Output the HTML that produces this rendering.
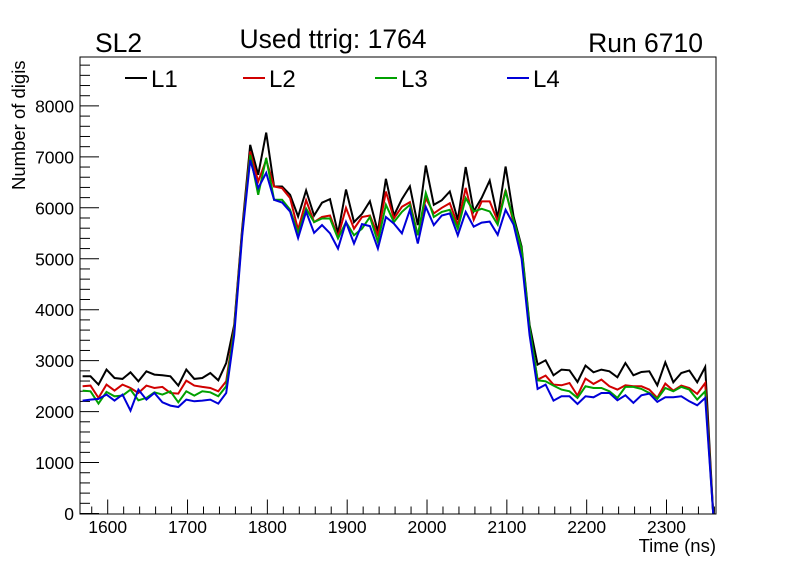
<!DOCTYPE html>
<html><head><meta charset="utf-8"><style>
html,body{margin:0;padding:0;background:#fff;}
svg{display:block;font-family:"Liberation Sans",Arial,sans-serif;}
</style></head><body>
<svg id="chart" width="796" height="572" viewBox="0 0 796 572" xmlns="http://www.w3.org/2000/svg">
<rect x="0" y="0" width="796" height="572" fill="#fff"/>
<text x="95" y="52" font-size="26.5">SL2</text>
<text x="333" y="48" font-size="26.5" text-anchor="middle">Used ttrig: 1764</text>
<text x="703" y="52" font-size="26.5" text-anchor="end">Run 6710</text>
<rect x="80" y="57" width="636" height="457" fill="none" stroke="#000" stroke-width="1"/>
<g id="axes"></g>
<g id="series"></g>
<g id="legend"></g>
<text transform="translate(25,190) rotate(-90)" font-size="18.5">Number of digis</text>
<text x="716" y="552" font-size="18.5" text-anchor="end">Time (ns)</text>
</svg>
<script>
const xTicks = [1600,1700,1800,1900,2000,2100,2200,2300];
const yTicks = [0,1000,2000,3000,4000,5000,6000,7000,8000];
const seriesNames = ["L1","L2","L3","L4"];
const t0 = 1568.5, dt = 10;
const L1 = [2693,2693,2530,2824,2660,2641,2771,2595,2791,2726,2713,2693,2510,2824,2641,2660,2758,2615,2954,
3700,5600,7235,6647,7477,6418,6418,6255,5830,6340,5850,6100,6170,5500,6360,5720,5880,6130,5530,6570,5850,6170,6420,5660,6830,6060,6150,6320,5760,6800,5930,6196,6536,5800,6810,5830,5240,3700,
2922,3007,2713,2824,2811,2582,2902,2771,2824,2791,2673,2954,2713,2778,2791,2516,2967,2575,2758,2804,2575,2876,0];
const L2 = [2497,2510,2268,2530,2412,2530,2464,2366,2510,2464,2484,2366,2353,2608,2510,2484,2464,2399,2595,
3650,5550,7105,6516,6941,6418,6385,6190,5569,6150,5720,5820,5850,5430,6000,5590,5820,5850,5460,6320,5790,6020,6110,5460,6190,5890,6000,6090,5660,6390,5765,6125,6125,5740,6350,5700,5150,3600,
2628,2706,2530,2517,2562,2314,2647,2543,2628,2497,2432,2517,2497,2497,2432,2268,2549,2412,2510,2464,2347,2562,0];
const L3 = [2412,2399,2157,2386,2301,2314,2432,2222,2268,2379,2333,2399,2183,2399,2314,2399,2379,2301,2497,
3600,5500,7039,6255,6980,6157,6157,5960,5500,5985,5720,5790,5790,5400,5720,5460,5590,5820,5330,6060,5720,5920,6060,5460,6290,5820,5920,5960,5590,6190,5930,5980,5930,5670,6320,5760,5200,3650,
2615,2595,2510,2432,2399,2268,2497,2464,2464,2399,2268,2484,2484,2445,2366,2249,2464,2399,2484,2432,2235,2399,0];
const L4 = [2216,2235,2249,2333,2216,2333,2020,2432,2235,2366,2183,2118,2091,2235,2203,2216,2235,2157,2366,
3500,5450,6941,6386,6686,6157,6105,5925,5405,5925,5510,5660,5500,5200,5720,5300,5680,5640,5200,5820,5690,5500,5960,5300,6020,5660,5850,5890,5460,5920,5630,5710,5730,5470,5960,5670,5000,3500,
2445,2530,2216,2301,2301,2150,2301,2281,2366,2366,2222,2320,2170,2320,2353,2190,2281,2281,2301,2203,2124,2268,0];
const colors = ["#000000","#d00000","#00a000","#0000d8"];

const NS = "http://www.w3.org/2000/svg";
const xMin = 1565.3, xMax = 2362, pLeft = 80, pRight = 716;
const yMin = 0, yMax = 8960, pBottom = 513.5, pTop = 57;
function xs(t){ return pLeft + (t - xMin) / (xMax - xMin) * (pRight - pLeft); }
function ys(v){ return pBottom - (v - yMin) / (yMax - yMin) * (pBottom - pTop); }
function mk(tag, attrs, parent){ const e = document.createElementNS(NS, tag); for (const k in attrs) e.setAttribute(k, attrs[k]); parent.appendChild(e); return e; }

const axes = document.getElementById('axes');
for (let t = 1580; t <= 2360; t += 20) {
  const major = (t % 100 === 0);
  const l = mk('line', {x1: xs(t), x2: xs(t), y1: pBottom, y2: pBottom - (major ? 14 : 7), stroke: '#000', 'stroke-width': 1}, axes);
  
  
}
xTicks.forEach(t => {
  const tx = mk('text', {x: xs(t), y: 533, 'font-size': 17.5, 'text-anchor': 'middle'}, axes);
  tx.textContent = String(t);
  
  
});
for (let v = 0; v <= 8800; v += 200) {
  const major = (v % 1000 === 0);
  const l = mk('line', {x1: pLeft, x2: pLeft + (major ? 19 : 10), y1: ys(v), y2: ys(v), stroke: '#000', 'stroke-width': 1}, axes);
  
  
}
yTicks.forEach(v => {
  const tx = mk('text', {x: 74, y: ys(v) + 6.5, 'font-size': 17.5, 'text-anchor': 'end'}, axes);
  tx.textContent = String(v);
  
  
});

const sg = document.getElementById('series');
[L1, L2, L3, L4].forEach((arr, i) => {
  const pts = arr.map((v, k) => xs(t0 + k * dt).toFixed(1) + ',' + ys(v).toFixed(1)).join(' ');
  const pl = mk('polyline', {points: pts, fill: 'none', stroke: colors[i], 'stroke-width': 2, 'stroke-linejoin': 'miter'}, sg);
  
  
});

const lg = document.getElementById('legend');
const legX = [125, 243, 375, 507];
seriesNames.forEach((n, i) => {
  const g = mk('g', {}, lg);
  
  
  mk('line', {x1: legX[i], x2: legX[i] + 22, y1: 78, y2: 78, stroke: colors[i], 'stroke-width': 2}, g);
  const tx = mk('text', {x: legX[i] + 26, y: 87, 'font-size': 24}, g);
  tx.textContent = n;
});
</script>
</body></html>
